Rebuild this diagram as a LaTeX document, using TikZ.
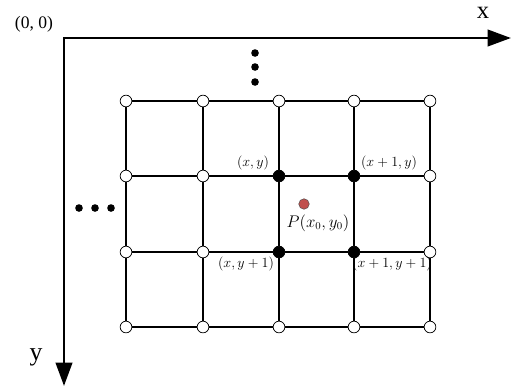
\documentclass[tikz,border=0pt]{standalone}
\usepackage{fontspec}
\setmainfont{Liberation Serif}
\usepackage{amsmath}
\usetikzlibrary{arrows.meta}
\definecolor{pointred}{RGB}{192,80,77}

\begin{document}
\begin{tikzpicture}[x=0.03cm, y=-0.03cm,
  axis/.style={line width=2.5pt, {Triangle[length=20pt,width=14pt]}-{Triangle[length=20pt,width=14pt]}},
  gridline/.style={line width=2.1pt},
  vertex/.style={circle, draw=black, fill=#1, line width=0.6pt, minimum size=10pt, inner sep=0pt},
  ellipsisdot/.style={circle, fill=black, minimum size=6.5pt, inner sep=0pt},
  lbl/.style={font=\fontsize{11.5}{13}\selectfont}]
  \useasboundingbox (0,0) rectangle (512,387);

  % Axes
  \coordinate (O) at (64,38);
  \coordinate (xend) at (511,38);
  \coordinate (yend) at (64,386);
  \draw[axis] (yend) -- (O) -- (xend);
  \node[font=\fontsize{15}{18}\selectfont] (origin) at (34,24) {(0, 0)};
  \node[font=\fontsize{21}{25}\selectfont, inner sep=0pt] (xlabel) at (483,13) {x};
  \node[font=\fontsize{22}{26}\selectfont] (ylabel) at (36,357) {y};

  % Grid vertices
  \foreach \c/\x in {0/126,1/203,2/279,3/354,4/430}
    \foreach \r/\y in {0/101,1/176,2/252,3/327} {
      \pgfmathtruncatemacro\inner{(\c==2 || \c==3) && (\r==1 || \r==2)}
      \ifnum\inner=1 \def\vfill{black}\else\def\vfill{white}\fi
      \node[vertex=\vfill] (g-\c-\r) at (\x,\y) {};
    }

  % Grid lines
  \foreach \r in {0,...,3}
    \foreach \c [count=\n from 1] in {0,...,3}
      \draw[gridline] (g-\c-\r) -- (g-\n-\r);
  \foreach \c in {0,...,4}
    \foreach \r [count=\n from 1] in {0,...,2}
      \draw[gridline] (g-\c-\r) -- (g-\c-\n);

  % Ellipsis dots
  \foreach \i/\y in {1/53,2/67,3/82}
    \node[ellipsisdot] (vdot-\i) at (255,\y) {};
  \foreach \i/\x in {1/79,2/95,3/111}
    \node[ellipsisdot] (hdot-\i) at (\x,208) {};

  % Corner labels
  \node[lbl] (lxy) at (253,163) {$(x,y)$};
  \node[lbl] (lx1y) at (389,163) {$(x+1,y)$};
  \node[lbl] (lxy1) at (246,264) {$(x,y+1)$};
  \node[lbl] (lx1y1) at (392,264) {$(x+1,y+1)$};

  % Query point
  \node[circle, draw=black!70, fill=pointred, line width=0.4pt, minimum size=9pt, inner sep=0pt] (P) at (304,204) {};
  \node[font=\fontsize{13.5}{16}\selectfont] (Plabel) at (318,223) {$P(x_0,y_0)$};
\end{tikzpicture}
\end{document}
